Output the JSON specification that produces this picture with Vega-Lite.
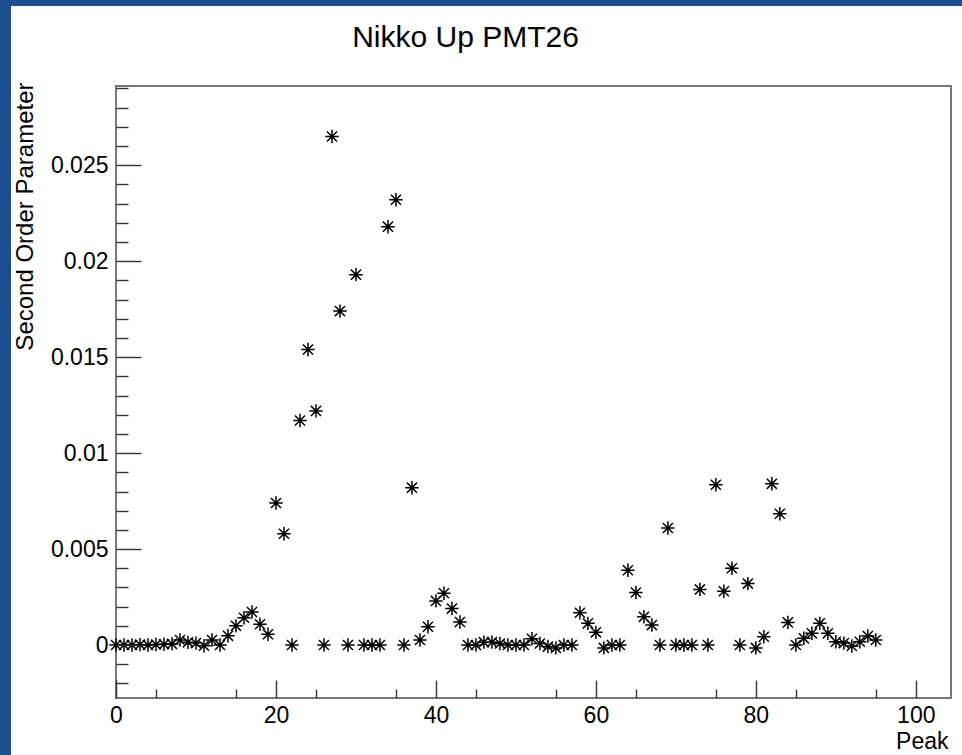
{
  "$schema": "https://vega.github.io/schema/vega-lite/v6.json",
  "width": 835,
  "height": 612,
  "autosize": {"type": "none"},
  "padding": {"left": 116, "top": 86, "right": 11, "bottom": 57},
  "background": "#1d4d8e",
  "config": {
    "view": {"stroke": null},
    "axis": {
      "zindex": 1,
      "grid": false,
      "domain": false,
      "labelFont": "Liberation Sans",
      "titleFont": "Liberation Sans",
      "labelColor": "#000000",
      "titleColor": "#000000",
      "tickColor": "#333333",
      "tickWidth": 1.4,
      "titleFontWeight": "normal",
      "labelFlush": false,
      "labelOverlap": false,
      "labelBound": false
    }
  },
  "title": {
    "text": "Nikko Up PMT26",
    "font": "Liberation Sans",
    "fontSize": 30,
    "fontWeight": "normal",
    "color": "#000000",
    "anchor": "middle",
    "frame": "group",
    "baseline": "alphabetic",
    "dx": -68,
    "offset": -71
  },
  "datasets": {
    "peaks": [
      {"peak": 0, "value": 0}, {"peak": 1, "value": 0}, {"peak": 2, "value": 0},
      {"peak": 3, "value": 0.00002}, {"peak": 4, "value": 0}, {"peak": 5, "value": 0.00003},
      {"peak": 6, "value": 0.00004}, {"peak": 7, "value": 0.00006}, {"peak": 8, "value": 0.00026},
      {"peak": 9, "value": 0.00014}, {"peak": 10, "value": 0.0001}, {"peak": 11, "value": -0.00004},
      {"peak": 12, "value": 0.00026}, {"peak": 13, "value": 0}, {"peak": 14, "value": 0.00048},
      {"peak": 15, "value": 0.001}, {"peak": 16, "value": 0.00142}, {"peak": 17, "value": 0.00172},
      {"peak": 18, "value": 0.00108}, {"peak": 19, "value": 0.00056}, {"peak": 20, "value": 0.0074},
      {"peak": 21, "value": 0.0058}, {"peak": 22, "value": 0}, {"peak": 23, "value": 0.0117},
      {"peak": 24, "value": 0.0154}, {"peak": 25, "value": 0.0122}, {"peak": 26, "value": 0},
      {"peak": 27, "value": 0.0265}, {"peak": 28, "value": 0.0174}, {"peak": 29, "value": 0},
      {"peak": 30, "value": 0.0193}, {"peak": 31, "value": 0}, {"peak": 32, "value": 0},
      {"peak": 33, "value": 0}, {"peak": 34, "value": 0.0218}, {"peak": 35, "value": 0.0232},
      {"peak": 36, "value": 0}, {"peak": 37, "value": 0.0082}, {"peak": 38, "value": 0.00026},
      {"peak": 39, "value": 0.00095}, {"peak": 40, "value": 0.0023}, {"peak": 41, "value": 0.0027},
      {"peak": 42, "value": 0.0019}, {"peak": 43, "value": 0.0012}, {"peak": 44, "value": 0},
      {"peak": 45, "value": 0}, {"peak": 46, "value": 0.00015}, {"peak": 47, "value": 0.00015},
      {"peak": 48, "value": 0.00008}, {"peak": 49, "value": 0}, {"peak": 50, "value": 0},
      {"peak": 51, "value": 0}, {"peak": 52, "value": 0.00033}, {"peak": 53, "value": 0.00008},
      {"peak": 54, "value": -0.00008}, {"peak": 55, "value": -0.00015}, {"peak": 56, "value": 0},
      {"peak": 57, "value": 0}, {"peak": 58, "value": 0.00168}, {"peak": 59, "value": 0.00113},
      {"peak": 60, "value": 0.00066}, {"peak": 61, "value": -0.00015}, {"peak": 62, "value": 0},
      {"peak": 63, "value": 0}, {"peak": 64, "value": 0.0039}, {"peak": 65, "value": 0.00274},
      {"peak": 66, "value": 0.00147}, {"peak": 67, "value": 0.00104}, {"peak": 68, "value": 0},
      {"peak": 69, "value": 0.0061}, {"peak": 70, "value": 0}, {"peak": 71, "value": 0},
      {"peak": 72, "value": 0}, {"peak": 73, "value": 0.0029}, {"peak": 74, "value": 0},
      {"peak": 75, "value": 0.00835}, {"peak": 76, "value": 0.0028}, {"peak": 77, "value": 0.004},
      {"peak": 78, "value": 0}, {"peak": 79, "value": 0.0032}, {"peak": 80, "value": -0.00015},
      {"peak": 81, "value": 0.00043}, {"peak": 82, "value": 0.0084}, {"peak": 83, "value": 0.00684},
      {"peak": 84, "value": 0.00118}, {"peak": 85, "value": 0}, {"peak": 86, "value": 0.00035},
      {"peak": 87, "value": 0.00061}, {"peak": 88, "value": 0.00113}, {"peak": 89, "value": 0.00061},
      {"peak": 90, "value": 0.00017}, {"peak": 91, "value": 0.0001}, {"peak": 92, "value": -0.00005},
      {"peak": 93, "value": 0.00017}, {"peak": 94, "value": 0.00047}, {"peak": 95, "value": 0.00026}
    ]
  },
  "resolve": {"axis": {"x": "independent", "y": "independent"}},
  "layer": [
    {
      "description": "White canvas panel behind the plot; carries the minor tick marks",
      "data": {"values": [{}]},
      "mark": {"type": "rect", "fill": "#ffffff", "strokeWidth": 0},
      "encoding": {
        "x": {
          "datum": -13.125, "type": "quantitative",
          "scale": {"domain": [0, 104.4], "nice": false, "zero": false},
          "axis": {
            "orient": "bottom", "values": [5, 15, 25, 35, 45, 55, 65, 75, 85, 95],
            "tickSize": -9, "labels": false, "title": null, "zindex": 2
          }
        },
        "x2": {"datum": 108},
        "y": {
          "datum": -0.008, "type": "quantitative",
          "scale": {"domain": [-0.00276, 0.02913], "nice": false, "zero": false},
          "axis": {
            "orient": "left",
            "values": [-0.002, -0.001, 0.001, 0.002, 0.003, 0.004, 0.006, 0.007, 0.008, 0.009,
                       0.011, 0.012, 0.013, 0.014, 0.016, 0.017, 0.018, 0.019, 0.021, 0.022,
                       0.023, 0.024, 0.026, 0.027, 0.028, 0.029],
            "tickSize": -12, "labels": false, "title": null, "zindex": 2
          }
        },
        "y2": {"datum": 0.0333}
      }
    },
    {
      "description": "Plot frame",
      "data": {"values": [{}]},
      "mark": {"type": "rect", "fillOpacity": 0, "stroke": "#777777", "strokeWidth": 2},
      "encoding": {
        "x": {
          "datum": 0, "type": "quantitative",
          "scale": {"domain": [0, 104.4], "nice": false, "zero": false},
          "axis": null
        },
        "x2": {"datum": 104.4},
        "y": {
          "datum": -0.00276, "type": "quantitative",
          "scale": {"domain": [-0.00276, 0.02913], "nice": false, "zero": false},
          "axis": null
        },
        "y2": {"datum": 0.02913}
      }
    },
    {
      "data": {"name": "peaks"},
      "mark": {
        "type": "point",
        "shape": "M-1,0L1,0M0,-1L0,1M-0.75,-0.75L0.75,0.75M-0.75,0.75L0.75,-0.75",
        "filled": false,
        "stroke": "#000000",
        "strokeWidth": 1.5,
        "size": 180,
        "opacity": 1
      },
      "encoding": {
        "x": {
          "field": "peak", "type": "quantitative",
          "scale": {"domain": [0, 104.4], "nice": false, "zero": false},
          "axis": {
            "orient": "bottom", "values": [0, 20, 40, 60, 80, 100], "format": "d",
            "tickSize": -18, "labelPadding": 24, "labelFontSize": 23,
            "title": "Peak", "titleFontSize": 23,
            "titleX": 832, "titleY": 50, "titleAlign": "right", "titleBaseline": "alphabetic", "titleAnchor": "end",
            "zindex": 2
          }
        },
        "y": {
          "field": "value", "type": "quantitative",
          "scale": {"domain": [-0.00276, 0.02913], "nice": false, "zero": false},
          "axis": {
            "orient": "left", "values": [0, 0.005, 0.01, 0.015, 0.02, 0.025], "format": "~g",
            "tickSize": -25, "labelPadding": 33, "labelFontSize": 23,
            "title": "Second Order Parameter", "titleFontSize": 24,
            "titleX": -84, "titleY": -4, "titleAngle": 270, "titleAlign": "right", "titleBaseline": "alphabetic", "titleAnchor": "end",
            "zindex": 2
          }
        }
      }
    }
  ]
}
